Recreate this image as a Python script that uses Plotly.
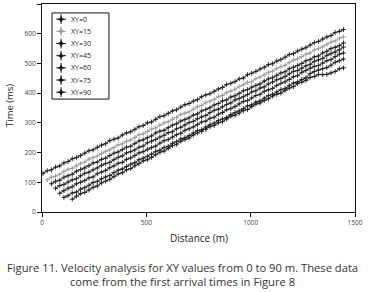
import plotly.graph_objects as go

distance = [5, 25, 45, 65, 85, 105, 125, 145, 165, 185, 205, 225, 245, 265, 285, 305, 325, 345, 365, 385,
            405, 425, 445, 465, 485, 505, 525, 545, 565, 585, 605, 625, 645, 665, 685, 705, 725, 745, 765, 785,
            805, 825, 845, 865, 885, 905, 925, 945, 965, 985, 1005, 1025, 1045, 1065, 1085, 1105, 1125, 1145, 1165, 1185,
            1205, 1225, 1245, 1265, 1285, 1305, 1325, 1345, 1365, 1385, 1405, 1425, 1445]

xy0 = [130, 139, 142, 151, 155, 165, 170, 179, 183, 190, 198, 206, 209, 218, 225, 230, 240, 245, 249, 259,
       266, 270, 278, 287, 291, 300, 303, 312, 321, 324, 332, 340, 344, 353, 361, 365, 373, 378, 388, 394,
       398, 406, 414, 419, 429, 433, 439, 448, 451, 462, 467, 473, 481, 487, 496, 499, 508, 513, 521, 530,
       533, 542, 548, 553, 562, 570, 574, 582, 589, 594, 604, 608, 614]

xy15 = [None] + [108, 117, 121, 127, 136, 144, 147, 156, 163, 168, 178, 183, 188, 197, 204, 209, 217, 226, 229,
                 238, 242, 251, 260, 263, 271, 279, 283, 293, 300, 304, 312, 318, 328, 333, 337, 346, 354, 359, 368,
                 373, 379, 388, 392, 402, 407, 413, 422, 428, 436, 439, 449, 454, 462, 470, 474, 483, 489, 494, 503,
                 511, 515, 523, 531, 535, 545, 550, 556, 564, 572, 576, 585, 589]

xy30 = [None] * 2 + [95, 103, 107, 117, 122, 127, 137, 143, 148, 156, 165, 168, 177, 181, 190, 198, 202, 210, 218,
                     221, 231, 239, 243, 250, 256, 266, 272, 275, 284, 292, 297, 306, 311, 317, 326, 330, 340, 345,
                     351, 360, 365, 374, 377, 387, 391, 399, 408, 412, 420, 426, 431, 441, 448, 452, 460, 468, 472,
                     482, 487, 493, 500, 509, 513, 522, 525, 535, 541, 550, 554, 560, 569]

xy45 = [None] * 3 + [80, 89, 93, 101, 108, 112, 122, 130, 134, 142, 148, 157, 163, 167, 176, 184, 189, 199, 203,
                     209, 218, 222, 233, 238, 244, 252, 258, 267, 270, 280, 285, 293, 301, 305, 314, 320, 325, 335,
                     342, 346, 354, 362, 367, 377, 382, 388, 395, 404, 408, 417, 421, 431, 437, 445, 449, 456, 465,
                     473, 476, 484, 492, 497, 507, 512, 517, 527, 533, 538, 546, 555]

xy60 = [None] * 4 + [63, 72, 80, 85, 95, 100, 106, 115, 118, 129, 134, 140, 149, 155, 164, 167, 177, 182, 190,
                     199, 203, 211, 217, 222, 232, 240, 244, 252, 260, 265, 275, 280, 286, 294, 303, 306, 315, 319,
                     329, 335, 344, 348, 355, 364, 372, 375, 384, 392, 396, 406, 411, 416, 426, 433, 438, 446, 455,
                     459, 470, 476, 484, 490, 493, 501, 509, 513, 523, 531, 535]

xy75 = [None] * 5 + [49, 55, 64, 67, 77, 82, 90, 99, 103, 112, 118, 123, 133, 141, 145, 153, 161, 166, 176,
                     181, 187, 195, 204, 208, 217, 221, 231, 237, 246, 250, 257, 266, 274, 277, 286, 294, 299, 308,
                     313, 318, 328, 335, 340, 348, 357, 361, 370, 374, 383, 392, 396, 404, 412, 416, 426, 434, 438,
                     446, 452, 466, 473, 478, 482, 486, 494, 504, 509, 515]

xy90 = [None] * 7 + [43, 53, 62, 66, 74, 83, 88, 98, 104, 110, 119, 128, 132, 142, 146, 156, 163, 172, 176,
                     184, 193, 201, 205, 214, 223, 228, 238, 244, 249, 259, 266, 271, 278, 287, 291, 300, 304, 313,
                     322, 326, 333, 341, 345, 355, 363, 367, 375, 381, 390, 396, 400, 409, 417, 422, 432, 437, 443,
                     453, 456, 463, 462, 463, 468, 473, 482, 485]

series_names = ["XY=0", "XY=15", "XY=30", "XY=45", "XY=60", "XY=75", "XY=90"]
series_values = [xy0, xy15, xy30, xy45, xy60, xy75, xy90]
series_colors = ["#1a1a1a", "#9a9a9a", "#1a1a1a", "#1a1a1a", "#1a1a1a", "#1a1a1a", "#1a1a1a"]

x_ticks = [0, 500, 1000, 1500]
y_ticks = [0, 100, 200, 300, 400, 500, 600, 700]

font_fam = "'Open Sans', 'DejaVu Sans', sans-serif"

fig = go.Figure()
for name, vals, col in zip(series_names, series_values, series_colors):
    fig.add_trace(go.Scatter(
        x=distance, y=vals, name=name, mode="lines+markers",
        line=dict(color=col, width=1),
        marker=dict(symbol="cross-thin", size=3.5, line=dict(color=col, width=0.9), color=col),
        connectgaps=False, showlegend=False,
    ))

# manual compact legend (layout positions in paper space of an overlay axis)
n = len(series_names)
leg_top, leg_step = 0.927, 0.0585
leg_y = [leg_top - j * leg_step for j in range(n)]
fig.add_trace(go.Scatter(
    x=[0.061] * n, y=leg_y, xaxis="x2", yaxis="y2", mode="markers",
    marker=dict(symbol="star-diamond", size=5, color=series_colors,
                line=dict(color=series_colors, width=0)),
    showlegend=False, hoverinfo="skip",
))
fig.add_trace(go.Scatter(
    x=[0.061] * n, y=leg_y, xaxis="x2", yaxis="y2", mode="markers",
    marker=dict(symbol="cross-thin", size=7, color=series_colors,
                line=dict(color=series_colors, width=1)),
    showlegend=False, hoverinfo="skip",
))

annotations = []
for name, yy in zip(series_names, leg_y):
    annotations.append(dict(text=name, xref="x2", yref="y2", x=0.086, y=yy, xanchor="left", yanchor="middle",
                            showarrow=False, font=dict(size=7, color="#222")))

annotations += [
    dict(text="Time (ms)", xref="paper", yref="paper", x=-0.102, y=0.51, xanchor="center", yanchor="middle",
         textangle=-90, showarrow=False, font=dict(size=9.5, color="#222")),
    dict(text="Distance (m)", xref="paper", yref="paper", x=0.5, y=-0.125, xanchor="center", yanchor="middle",
         showarrow=False, font=dict(size=10, color="#222")),
    dict(text="Figure 11. Velocity analysis for XY values from 0 to 90 m. These data",
         xref="paper", yref="paper", x=0.45, y=-0.269, xanchor="center", yanchor="middle",
         showarrow=False, font=dict(size=11.2, color="#333")),
    dict(text="come from the first arrival times in Figure 8",
         xref="paper", yref="paper", x=0.45, y=-0.332, xanchor="center", yanchor="middle",
         showarrow=False, font=dict(size=11.2, color="#333")),
]

fig.update_layout(
    width=369, height=292,
    margin=dict(l=42, r=14, t=4, b=80, autoexpand=False),
    paper_bgcolor="white", plot_bgcolor="white",
    font=dict(family=font_fam, color="#222"),
    showlegend=False,
    xaxis=dict(
        range=[0, 1500], tickvals=x_ticks, ticktext=[str(v) for v in x_ticks],
        ticks="outside", ticklen=4, tickcolor="#111", tickwidth=1,
        showline=True, linecolor="#111", linewidth=1, mirror=True,
        showgrid=False, zeroline=False, automargin=False,
        tickfont=dict(size=6.5, color="#444"),
    ),
    yaxis=dict(
        range=[0, 700], tickvals=y_ticks, ticktext=[str(v) for v in y_ticks],
        ticks="outside", ticklen=4, tickcolor="#111", tickwidth=1,
        showline=True, linecolor="#111", linewidth=1, mirror=True,
        showgrid=False, zeroline=False, automargin=False,
        tickfont=dict(size=6.5, color="#444"),
    ),
    xaxis2=dict(range=[0, 1], overlaying="x", visible=False, fixedrange=True),
    yaxis2=dict(range=[0, 1], overlaying="y", visible=False, fixedrange=True),
    shapes=[dict(type="rect", xref="x2", yref="y2", x0=0.032, x1=0.214, y0=0.543, y1=0.957,
                 line=dict(color="#111", width=1), fillcolor="white", layer="below")],
    annotations=annotations,
)

fig.write_html("out.html", config={"displayModeBar": False},
               post_script="document.body.style.margin='0px';")
